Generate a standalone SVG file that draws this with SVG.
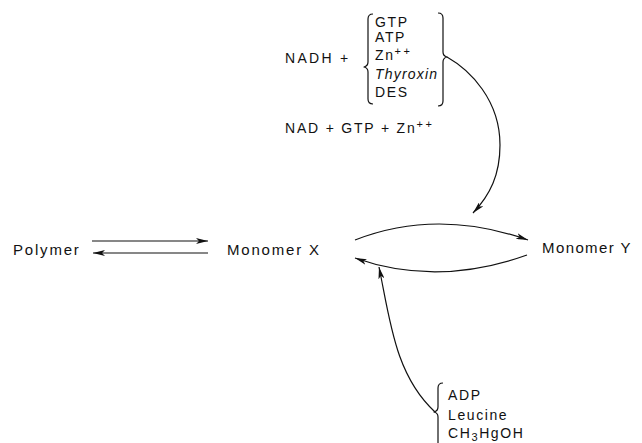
<svg xmlns="http://www.w3.org/2000/svg" width="642" height="443" viewBox="0 0 642 443">
<defs>
<style>
text{font-family:"Liberation Sans",Arial,sans-serif;fill:#111;}
.lbl{font-size:15px;letter-spacing:1.8px;}
.sm{font-size:14px;letter-spacing:1.6px;}
.sup{font-size:11px;letter-spacing:2.5px;}
.line{fill:none;stroke:#111;stroke-width:1.2;}
.brace{fill:none;stroke:#111;stroke-width:1.2;stroke-linejoin:round;}
</style>
<marker id="ah" viewBox="0 0 12 6" refX="12" refY="3" markerWidth="12" markerHeight="6" markerUnits="userSpaceOnUse" orient="auto">
<path d="M0,0 L12,3 L0,6 L3,3 Z" fill="#111"/>
</marker>
</defs>
<rect width="642" height="443" fill="#fff"/>

<g id="polymer"><text class="lbl" x="13" y="255">Polymer</text></g>
<g id="monomer-x"><text class="lbl" x="227" y="255">Monomer X</text></g>
<g id="monomer-y"><text class="lbl" x="542" y="253" style="letter-spacing:1.4px">Monomer Y</text></g>

<g id="activators">
<text class="sm" x="285" y="63" style="letter-spacing:2.3px">NADH +</text>
<path class="brace" d="M373,14 Q368,14 368,19 L368,62 Q368,66 364,67 Q368,68 368,72 L368,99 Q368,104 373,104"/>
<text class="sm" x="375" y="27">GTP</text>
<text class="sm" x="375" y="42">ATP</text>
<text class="sm" x="375" y="60">Zn<tspan class="sup" dy="-5">++</tspan></text>
<text class="sm" x="375" y="79" style="font-style:italic;letter-spacing:1.2px">Thyroxin</text>
<text class="sm" x="375" y="97">DES</text>
<path class="brace" d="M438,13 Q443,13 443,18 L443,52 Q443,56 447,57 Q443,58 443,62 L443,101 Q443,106 438,106"/>
</g>

<g id="products">
<text class="sm" x="285" y="133" style="letter-spacing:1.8px">NAD + GTP + Zn<tspan class="sup" dy="-5">++</tspan></text>
</g>

<g id="inhibitors">
<path class="brace" d="M443,383 Q438,383 438,388 L438,407 Q438,411 434,412 Q438,413 438,417 L438,443"/>
<text class="sm" x="448" y="400">ADP</text>
<text class="sm" x="448" y="420">Leucine</text>
<text class="sm" x="448" y="438">CH<tspan style="font-size:11px" dy="3">3</tspan><tspan dy="-3">HgOH</tspan></text>
</g>

<g id="connectors">
<path class="line" d="M92,241 L208,241" marker-end="url(#ah)"/>
<path class="line" d="M208,253 L93,253" marker-end="url(#ah)"/>
<path class="line" d="M355,240 Q437,208 528,240" marker-end="url(#ah)"/>
<path class="line" d="M527,255 Q437,287 355,258" marker-end="url(#ah)"/>
<path class="line" d="M447,57 C470,70 500,100 500,145 C500,175 490,195 473,213" marker-end="url(#ah)"/>
<path class="line" d="M435,412 C395,375 390,320 379,267" marker-end="url(#ah)"/>
</g>
</svg>
